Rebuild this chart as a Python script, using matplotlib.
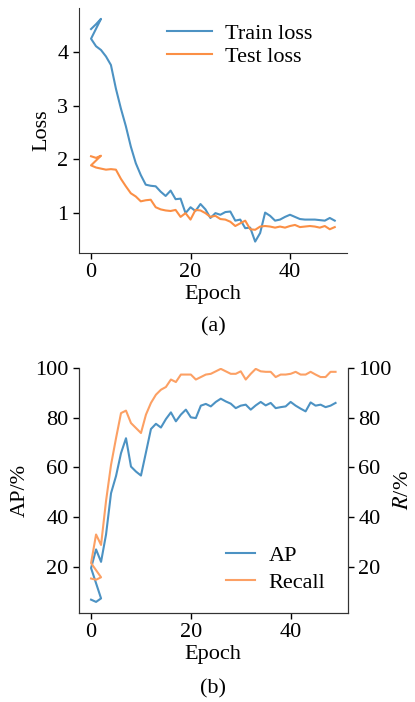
import numpy as np
import matplotlib
matplotlib.use('Agg')
from matplotlib import pyplot as plt

plt.rcParams['font.family'] = ['Liberation Serif', 'DejaVu Serif']
plt.rcParams['mathtext.fontset'] = 'stix'
plt.rcParams['font.size'] = 16

# 训练中途重启过，前三个点是第一次运行的记录
epoch_restart = [0, 1, 2]
epoch = list(range(50))

# (a) 损失曲线
train_restart = [4.43, 4.52, 4.62]
train_loss = [4.25, 4.11, 4.04, 3.92, 3.76, 3.32, 2.95, 2.62, 2.24, 1.93,
              1.71, 1.53, 1.51, 1.50, 1.40, 1.32, 1.42, 1.26, 1.27, 1.00,
              1.11, 1.04, 1.17, 1.07, 0.91, 1.00, 0.97, 1.02, 1.03, 0.86,
              0.88, 0.72, 0.73, 0.47, 0.63, 1.01, 0.95, 0.86, 0.88, 0.93,
              0.97, 0.93, 0.89, 0.88, 0.88, 0.88, 0.87, 0.86, 0.91, 0.86]
test_restart = [2.06, 2.03, 2.07]
test_loss = [1.89, 1.85, 1.83, 1.81, 1.82, 1.81, 1.64, 1.50, 1.37, 1.31,
             1.22, 1.24, 1.25, 1.11, 1.07, 1.05, 1.04, 1.06, 0.93, 1.00,
             0.88, 1.06, 1.05, 1.00, 0.93, 0.95, 0.89, 0.88, 0.84, 0.76,
             0.81, 0.86, 0.70, 0.69, 0.75, 0.76, 0.75, 0.73, 0.75, 0.73,
             0.76, 0.78, 0.74, 0.75, 0.76, 0.75, 0.73, 0.76, 0.70, 0.74]

# (b) AP 和召回率 (%)
ap_restart = [6.8, 5.9, 7.3]
ap = [19.5, 27.0, 22.0, 33.0, 49.6, 56.5, 65.7, 71.7, 60.3, 58.3,
      56.7, 66.0, 75.4, 77.5, 76.0, 79.4, 82.1, 78.5, 81.2, 83.2,
      80.1, 79.8, 84.8, 85.5, 84.5, 86.3, 87.6, 86.5, 85.6, 83.8,
      84.8, 85.2, 83.2, 84.9, 86.3, 84.9, 85.9, 83.8, 84.2, 84.5,
      86.3, 84.8, 83.6, 82.5, 86.1, 84.8, 85.2, 84.2, 84.8, 85.9]
recall_restart = [15.3, 14.8, 15.8]
recall = [21.5, 33.0, 28.8, 46.5, 61.0, 71.7, 81.8, 82.8, 77.8, 75.8,
          73.8, 81.2, 85.9, 89.2, 91.2, 92.3, 95.3, 94.3, 97.3, 97.3,
          97.3, 95.3, 96.3, 97.3, 97.6, 98.6, 99.6, 98.6, 97.6, 97.6,
          98.6, 95.3, 97.6, 99.6, 98.6, 98.4, 98.4, 96.3, 97.3, 97.3,
          97.6, 98.4, 97.3, 97.3, 98.4, 97.3, 96.3, 96.3, 98.4, 98.4]

blue = '#4c92c3'
orange = '#fb8f45'
orange2 = '#fca064'

fig = plt.figure(figsize=(4.15, 7.02), dpi=100)

# ---- 上图 ----
ax1 = fig.add_axes([0.190, 0.640, 0.646, 0.349])
ax1.plot(epoch_restart + epoch, train_restart + train_loss, color=blue, lw=1.5, label='Train loss')
ax1.plot(epoch_restart + epoch, test_restart + test_loss, color=orange, lw=1.5, label='Test loss')
ax1.set_xticks([0, 20, 40])
ax1.set_yticks([1, 2, 3, 4])
ax1.set_xlabel('Epoch', labelpad=2)
ax1.set_ylabel('Loss')
for s in ['top', 'right']:
    ax1.spines[s].set_visible(False)
ax1.legend(loc='upper right', frameon=False, handlelength=2.0, handletextpad=0.6,
           borderpad=0.2, labelspacing=0.1, bbox_to_anchor=(0.93, 1.0))
fig.text(0.513, 0.535, '(a)', ha='center', va='center')

# ---- 下图 ----
ax2 = fig.add_axes([0.190, 0.127, 0.648, 0.349])
ax3 = ax2.twinx()
l1, = ax2.plot(epoch_restart + epoch, ap_restart + ap, color=blue, lw=1.5, label='AP')
l2, = ax3.plot(epoch_restart + epoch, recall_restart + recall, color=orange2, lw=1.5, label='Recall')
for a in (ax2, ax3):
    a.set_ylim(1.5, 100)
    a.set_yticks([20, 40, 60, 80, 100])
    a.spines['top'].set_visible(False)
ax2.set_xticks([0, 20, 40])
ax2.set_xlabel('Epoch', labelpad=2)
ax2.set_ylabel('AP/%')
ax3.set_ylabel('$R$/%', labelpad=2)
ax2.legend([l1, l2], ['AP', 'Recall'], loc='lower right', frameon=False,
           handlelength=1.3, handletextpad=0.6, labelspacing=0.3,
           bbox_to_anchor=(0.99, 0.0))
fig.text(0.513, 0.019, '(b)', ha='center', va='center')

for a in (ax1, ax2, ax3):
    a.tick_params(direction='out', length=4, width=1)
    for s in a.spines.values():
        s.set_color('#333333')

fig.savefig('out.png', dpi=100)
